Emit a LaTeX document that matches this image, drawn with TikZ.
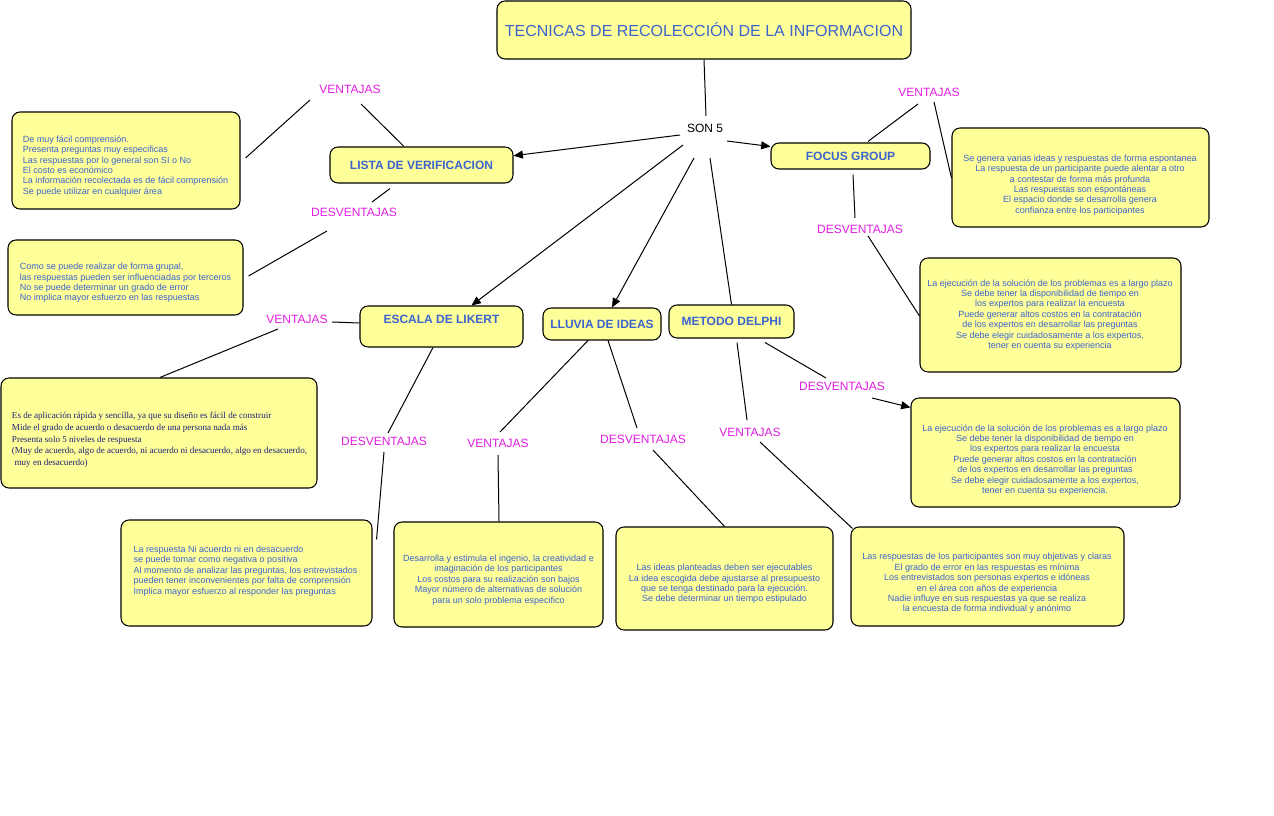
\documentclass[tikz,border=0pt]{standalone}
\usepackage{fontspec}
\setmainfont{Liberation Sans}
\newfontfamily\serifx{Liberation Serif}
\usetikzlibrary{arrows.meta,calc}
\definecolor{boxfill}{RGB}{255,255,153}
\definecolor{txtblue}{RGB}{60,100,205}
\definecolor{lblmag}{RGB}{225,30,225}
\definecolor{navyx}{RGB}{30,30,120}
\begin{document}
\begin{tikzpicture}[x=0.75pt,y=-0.75pt,
  box/.style 2 args={draw=black, fill=boxfill, rounded corners=6pt, line width=0.8pt, minimum width=#1*0.75pt, minimum height=#2*0.75pt, inner sep=0pt},
  small/.style={font=\fontsize{6.75pt}{7.8pt}\selectfont, text=txtblue, inner sep=0pt},
  head/.style={font=\fontsize{9pt}{10pt}\selectfont\bfseries, text=txtblue},
  lbl/.style={font=\fontsize{9pt}{10pt}\selectfont, text=lblmag, inner sep=2pt},
  conn/.style={draw=black, line width=0.75pt},
  arr/.style={conn, -{Triangle[length=7pt,width=6pt]}},
]
\useasboundingbox[fill=white] (0,0) rectangle (1274,816);

% main nodes
\node[box={414}{58}, font=\fontsize{12pt}{14pt}\selectfont, text=txtblue] (title) at (704,30) {TECNICAS DE RECOLECCIÓN DE LA INFORMACION};
\node[font=\fontsize{9pt}{10pt}\selectfont] (son) at (705,128) {SON 5};
\node[box={183}{36}, head] (lista) at (421.5,165) {LISTA DE VERIFICACION};
\node[box={159}{26}, head] (focus) at (850.5,156) {FOCUS GROUP};
\node[box={163}{41}, head, text height=7pt, text depth=11.8pt] (likert) at (441.5,326.5) {ESCALA DE LIKERT};
\node[box={118}{32}, head] (lluvia) at (602,324) {LLUVIA DE IDEAS};
\node[box={125}{33}, head] (delphi) at (731.5,321.5) {METODO DELPHI};

% detail boxes
\node[box={228}{97}] (lvv) at (126,160.5) {};
\node[box={235}{75}] (lvd) at (125.5,277.5) {};
\node[box={257}{99}] (fgv) at (1080.5,177.5) {};
\node[box={261}{114}] (fgd) at (1050.5,315) {};
\node[box={269}{109}] (dd) at (1045.5,452.5) {};
\node[box={316}{110}] (lkv) at (159,433) {};
\node[box={251}{106}] (lkd) at (246.5,573) {};
\node[box={209}{105}] (llv) at (498.5,574.5) {};
\node[box={217}{103}] (lld) at (724.5,578.5) {};
\node[box={273}{99}] (dv) at (987.5,576.5) {};

% texts
\node[small, align=left] (lvvt) at (125.5,166) {De muy fácil comprensión.\\Presenta preguntas muy especificas\\Las respuestas por lo general son SI o No\\El costo es económico\\La información recolectada es de fácil comprensión\\Se puede utilizar en cualquier área};
\node[small, align=left] (lvdt) at (125.5,283) {Como se puede realizar de forma grupal,\\las respuestas pueden ser influenciadas por terceros\\No se puede determinar un grado de error\\No implica mayor esfuerzo en las respuestas};
\node[small, align=center] (fgvt) at (1080,185) {Se genera varias ideas y respuestas de forma espontanea\\La respuesta de un participante puede alentar a otro\\a contestar de forma más profunda\\Las respuestas son espontáneas\\El espacio donde se desarrolla genera\\confianza entre los participantes};
\node[small, align=center] (fgdt) at (1050,315) {La ejecución de la solución de los problemas es a largo plazo\\Se debe tener la disponibilidad de tiempo en\\los expertos para realizar la encuesta\\Puede generar altos costos en la contratación\\de los expertos en desarrollar las preguntas\\Se debe elegir cuidadosamente a los expertos,\\tener en cuenta su experiencia};
\node[small, align=center] (ddt) at (1045,460) {La ejecución de la solución de los problemas es a largo plazo\\Se debe tener la disponibilidad de tiempo en\\los expertos para realizar la encuesta\\Puede generar altos costos en la contratación\\de los expertos en desarrollar las preguntas\\Se debe elegir cuidadosamente a los expertos,\\tener en cuenta su experiencia.};
\node[small, text=navyx, font=\serifx\fontsize{6.8pt}{8.8pt}\selectfont, align=left] (lkvt) at (159.5,440) {Es de aplicación rápida y sencilla, ya que su diseño es fácil de construir\\Mide el grado de acuerdo o desacuerdo de una persona nada más\\Presenta solo 5 niveles de respuesta\\(Muy de acuerdo, algo de acuerdo, ni acuerdo ni desacuerdo, algo en desacuerdo,\\\hspace{2pt}muy en desacuerdo)};
\node[small, align=left] (lkdt) at (245.5,571) {La respuesta Ni acuerdo ni en desacuerdo\\se puede tomar como negativa o positiva\\Al momento de analizar las preguntas, los entrevistados\\pueden tener inconvenientes por falta de comprensión\\Implica mayor esfuerzo al responder las preguntas};
\node[small, align=center] (llvt) at (498.5,580) {Desarrolla y estimula el ingenio, la creatividad e\\imaginación de los participantes\\Los costos para su realización son bajos\\Mayor número de alternativas de solución\\para un solo problema especifico};
\node[small, align=center] (lldt) at (724.5,584) {Las ideas planteadas deben ser ejecutables\\La idea escogida debe ajustarse al presupuesto\\que se tenga destinado para la ejecución.\\Se debe determinar un tiempo estipulado};
\node[small, align=center] (dvt) at (987,583.5) {Las respuestas de los participantes son muy objetivas y claras\\El grado de error en las respuestas es mínima\\Los entrevistados son personas expertos e idóneas\\en el área con años de experiencia\\Nadie influye en sus respuestas ya que se realiza\\la encuesta de forma individual y anónimo};

% labels
\node[lbl] (v1) at (350,89) {VENTAJAS};
\node[lbl] (d1) at (354,212) {DESVENTAJAS};
\node[lbl] (v2) at (929,92) {VENTAJAS};
\node[lbl] (d2) at (860,229) {DESVENTAJAS};
\node[lbl] (v3) at (297,319) {VENTAJAS};
\node[lbl] (d3) at (384,441) {DESVENTAJAS};
\node[lbl] (v4) at (498,443) {VENTAJAS};
\node[lbl] (d4) at (643,439) {DESVENTAJAS};
\node[lbl] (v5) at (750,432) {VENTAJAS};
\node[lbl] (d5) at (842,386) {DESVENTAJAS};

% connectors from center
\draw[conn] (title.south) -- ($(son)+(1,-12)$);
\draw[arr] ($(son)+(-25,7)$) -- ($(lista.north east)!0.25!(lista.south east)$);
\draw[arr] ($(son)+(22,13)$) -- ($(focus.north west)!0.15!(focus.south west)$);
\draw[arr] ($(son)+(-22,17)$) -- ($(likert.north)+(30,0)$);
\draw[arr] ($(son)+(-11,30)$) -- ($(lluvia.north)+(10,0)$);
\draw[conn] ($(son)+(5,30)$) -- (delphi.north);

% lista
\draw[conn] ($(lista.north)+(-17.5,0)$) -- ($(v1)+(11,15)$);
\draw[conn] ($(v1)+(-40,11)$) -- ($(lvv.east)+(5,-2.5)$);
\draw[conn] ($(lista.south)+(-31.5,5)$) -- ($(d1)+(18,-10)$);
\draw[conn] ($(d1)+(-27,19)$) -- ($(lvd.east)+(5,-1.5)$);
% focus
\draw[conn] ($(focus.north)+(17.5,-1)$) -- ($(v2)+(-11,12)$);
\draw[conn] ($(v2)+(5,10)$) -- ($(fgv.west)+(0,0.5)$);
\draw[conn] ($(focus.south)+(2.5,5)$) -- ($(d2)+(-5,-11)$);
\draw[conn] ($(d2)+(8,7)$) -- ($(fgd.west)+(0,1)$);
% likert
\draw[conn] ($(likert.west)+(0,-3.5)$) -- ($(v3)+(35,3)$);
\draw[conn] ($(v3)+(-19,10)$) -- ($(lkv.north)+(1,0)$);
\draw[conn] ($(likert.south)+(-8.5,0)$) -- ($(d3)+(4,-8)$);
\draw[conn] ($(d3)+(0,11)$) -- ($(lkd.north east)+(4,20)$);
% lluvia
\draw[conn] ($(lluvia.south)+(-14,0)$) -- ($(v4)+(2,-11)$);
\draw[conn] ($(v4)+(0,12)$) -- ($(llv.north)+(0.5,0)$);
\draw[conn] ($(lluvia.south)+(6,0)$) -- ($(d4)+(-6,-11)$);
\draw[conn] ($(d4)+(10,11)$) -- (lld.north);
% delphi
\draw[conn] ($(delphi.south)+(5.5,4)$) -- ($(v5)+(-3,-12)$);
\draw[conn] ($(v5)+(10,10)$) -- ($(dv.north west)+(2,2)$);
\draw[conn] ($(delphi.south)+(33.5,4)$) -- ($(d5)+(-16,-8)$);
\draw[arr] ($(d5)+(30,12)$) -- ($(dd.north west)+(0,10)$);
\end{tikzpicture}
\end{document}
